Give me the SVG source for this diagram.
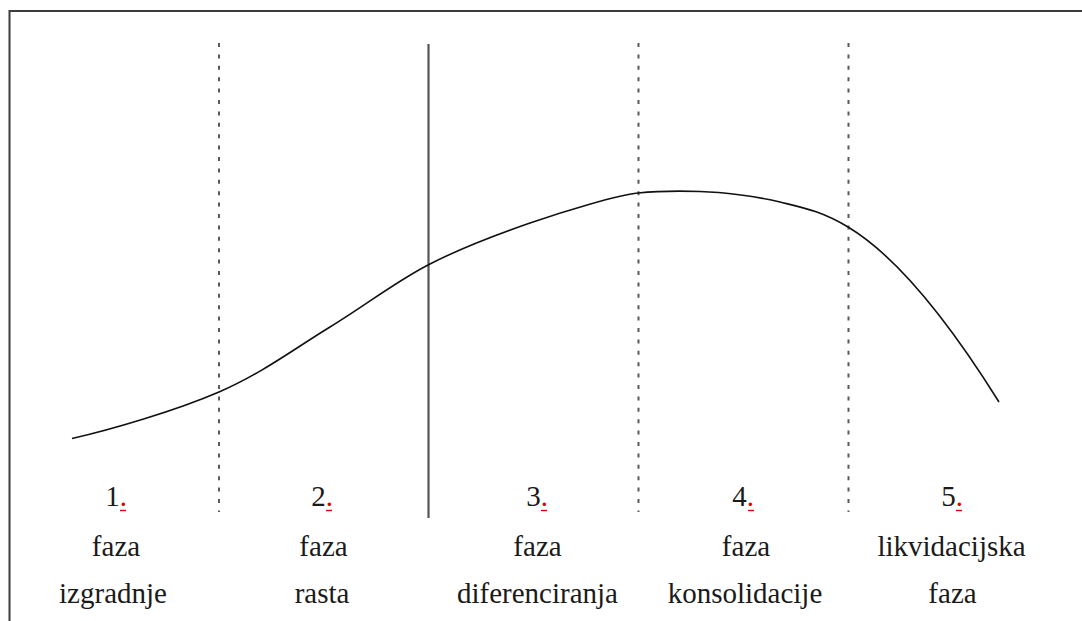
<svg xmlns="http://www.w3.org/2000/svg" width="1082" height="621" viewBox="0 0 1082 621">
<style>
.frame{stroke:#3c3c3c;stroke-width:2;fill:none}
.div{stroke:#5a5a5a;stroke-width:2;stroke-dasharray:4 7.4;fill:none}
.solid{stroke:#555;stroke-width:2.2;fill:none}
.curve{stroke:#111;stroke-width:1.6;fill:none}
text{font-family:"Liberation Serif","Times New Roman",serif;font-size:29px;fill:#1a1a1a;text-anchor:middle}
.red{fill:#e00000}
.ul{stroke:#e00000;stroke-width:1.4}
</style>
<rect width="1082" height="621" fill="#fff"/>
<g id="frame">
<line class="frame" x1="9.5" y1="11" x2="1082" y2="11"/>
<line class="frame" x1="9.5" y1="10" x2="9.5" y2="621"/>
</g>
<g id="connectors">
<line class="div" x1="219" y1="43" x2="219" y2="512"/>
<line class="solid" x1="428.5" y1="44" x2="428.5" y2="518"/>
<line class="div" x1="638.5" y1="43" x2="638.5" y2="512"/>
<line class="div" x1="848.5" y1="43" x2="848.5" y2="512"/>
<path class="curve" d="M72,438.5 C110,430 176,410.6 219,392 C262,373.4 295.2,348.2 330,327 C364.8,305.8 394.7,282.3 428,265 C461.3,247.7 495,235.1 530,223 C565,210.9 618,195 638,193 C658,191 678,190.8 700,191.5 C722,192.2 755.3,195.9 780,202 C804.7,208.1 821.3,211.2 848,227 C898,257 949,322 999,402"/>
</g>
<g id="phase1">
<text x="116" y="506">1<tspan class="red">.</tspan></text>
<line class="ul" x1="120" y1="510.5" x2="126" y2="510.5"/>
<text x="116" y="556">faza</text>
<text x="113" y="603">izgradnje</text>
</g>
<g id="phase2">
<text x="322" y="506">2<tspan class="red">.</tspan></text>
<line class="ul" x1="326" y1="510.5" x2="332" y2="510.5"/>
<text x="323.5" y="556">faza</text>
<text x="322" y="603">rasta</text>
</g>
<g id="phase3">
<text x="537" y="506">3<tspan class="red">.</tspan></text>
<line class="ul" x1="541" y1="510.5" x2="547" y2="510.5"/>
<text x="537.5" y="556">faza</text>
<text x="537.5" y="603">diferenciranja</text>
</g>
<g id="phase4">
<text x="743" y="506">4<tspan class="red">.</tspan></text>
<line class="ul" x1="748" y1="510.5" x2="754" y2="510.5"/>
<text x="746" y="556">faza</text>
<text x="745" y="603">konsolidacije</text>
</g>
<g id="phase5">
<text x="952" y="506">5<tspan class="red">.</tspan></text>
<line class="ul" x1="956" y1="510.5" x2="962" y2="510.5"/>
<text x="951.5" y="556">likvidacijska</text>
<text x="952.5" y="603">faza</text>
</g>
</svg>
